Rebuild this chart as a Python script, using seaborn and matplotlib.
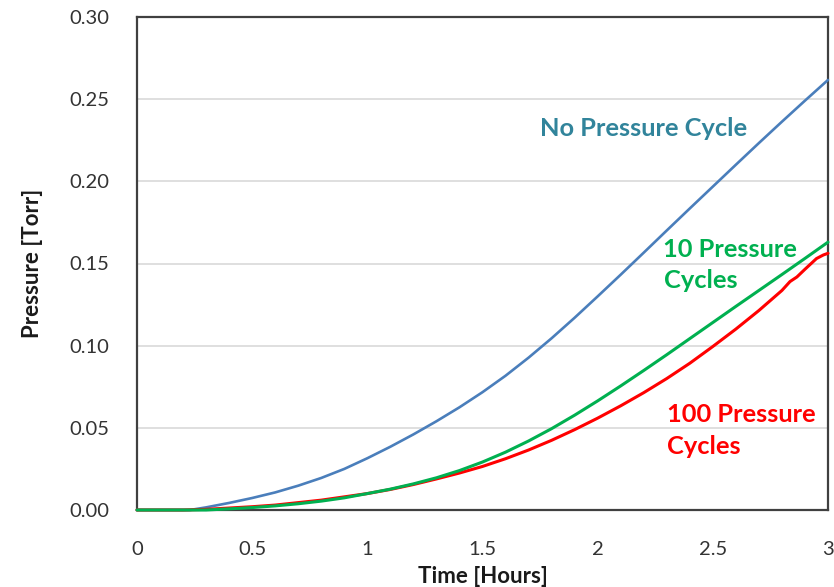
import numpy as np
import pandas as pd
import matplotlib
matplotlib.use("Agg")
import matplotlib.pyplot as plt
import seaborn as sns

# Pressure (Torr) against time (hours) for the three runs
time_no = [0.0, 0.1, 0.23, 0.3, 0.4, 0.5, 0.6, 0.7, 0.8, 0.9, 1.0,
           1.1, 1.2, 1.3, 1.4, 1.5, 1.6, 1.7, 1.8, 1.9, 2.0,
           2.1, 2.2, 2.3, 2.4, 2.5, 2.6, 2.7, 2.8, 2.9, 3.0]
no_cycle = [0.0, 0.0, 0.0, 0.0016, 0.0043, 0.0073, 0.0107, 0.0148, 0.0195, 0.0250, 0.0315,
            0.0385, 0.0460, 0.0540, 0.0625, 0.0717, 0.0817, 0.0927, 0.1045, 0.1170, 0.1300,
            0.1432, 0.1566, 0.1701, 0.1835, 0.1968, 0.2101, 0.2233, 0.2363, 0.2491, 0.2617]

time_10 = [0.0, 0.1, 0.2, 0.3, 0.4, 0.5, 0.6, 0.7, 0.8, 0.9, 1.0,
           1.1, 1.2, 1.3, 1.4, 1.5, 1.6, 1.7, 1.8, 1.9, 2.0,
           2.1, 2.2, 2.3, 2.4, 2.5, 2.6, 2.7, 2.8, 2.9, 3.0]
ten_cycles = [0.0, 0.0, 0.0, 0.0, 0.0007, 0.0015, 0.0025, 0.0038, 0.0054, 0.0074, 0.0100,
              0.0127, 0.0159, 0.0196, 0.0240, 0.0292, 0.0352, 0.0420, 0.0495, 0.0577, 0.0664,
              0.0755, 0.0849, 0.0945, 0.1043, 0.1141, 0.1239, 0.1336, 0.1433, 0.1531, 0.1630]

time_100 = [0.0, 0.1, 0.2, 0.3, 0.4, 0.5, 0.6, 0.7, 0.8, 0.9, 1.0,
            1.1, 1.2, 1.3, 1.4, 1.5, 1.6, 1.7, 1.8, 1.9, 2.0,
            2.1, 2.2, 2.3, 2.4, 2.5, 2.6, 2.7, 2.8, 2.835, 2.865,
            2.9, 2.95, 2.98, 3.0]
hundred_cycles = [0.0, 0.0, 0.0, 0.0004, 0.0012, 0.002, 0.003, 0.0045, 0.006, 0.008, 0.010,
                  0.0125, 0.0155, 0.0189, 0.0225, 0.0265, 0.0312, 0.0365, 0.0424, 0.0489, 0.0559,
                  0.0634, 0.0714, 0.0800, 0.0893, 0.0995, 0.1101, 0.1214, 0.1336, 0.1390, 0.1418,
                  0.1465, 0.1530, 0.1552, 0.1562]

x_ticks = [0, 0.5, 1, 1.5, 2, 2.5, 3]
x_tick_labels = ["0", "0.5", "1", "1.5", "2", "2.5", "3"]
y_ticks = [0.00, 0.05, 0.10, 0.15, 0.20, 0.25, 0.30]
y_tick_labels = ["0.00", "0.05", "0.10", "0.15", "0.20", "0.25", "0.30"]

sns.set_theme(style="white")
plt.rcParams["font.family"] = ["Lato", "DejaVu Sans"]

fig = plt.figure(figsize=(8.34, 5.87), dpi=100)
ax = fig.add_axes([137 / 834, 77 / 587, 691 / 834, 493 / 587])

blue, green, red = "#4a7ebb", "#00b050", "#ff0000"

sns.lineplot(x=time_no, y=no_cycle, ax=ax, color=blue, lw=1.9,
             estimator=None, sort=False, clip_on=False, zorder=4)
sns.lineplot(x=time_100, y=hundred_cycles, ax=ax, color=red, lw=2.2,
             estimator=None, sort=False, clip_on=False, zorder=4)
sns.lineplot(x=time_10, y=ten_cycles, ax=ax, color=green, lw=2.2,
             estimator=None, sort=False, clip_on=False, zorder=5)

ax.set_xlim(0, 3)
ax.set_ylim(0, 0.30)
ax.set_xticks(x_ticks)
ax.set_xticklabels(x_tick_labels)
ax.set_yticks(y_ticks)
ax.set_yticklabels(y_tick_labels)

ax.yaxis.grid(True, color="#d9d9d9", lw=1.2)
ax.xaxis.grid(False)
ax.set_axisbelow(True)

for s in ax.spines.values():
    s.set_color("#404040")
    s.set_linewidth(1.6)
    s.set_visible(True)

ax.tick_params(axis="both", which="major", direction="out", color="#bfbfbf",
               width=1.2, labelsize=14.5, labelcolor="#333333")
ax.tick_params(axis="x", length=6, pad=16)
ax.tick_params(axis="y", length=8, pad=12)

ax.set_xlabel("Time [Hours]", fontsize=16, fontweight="bold", color="#1a1a1a", labelpad=6)
ax.set_ylabel("Pressure [Torr]", fontsize=16, fontweight="bold", color="#1a1a1a", labelpad=19)

label_kw = dict(fontsize=18.3, fontweight="bold", ha="left", va="baseline")
ax.text(1.750, 0.2276, "No Pressure Cycle", color="#31849b", **label_kw)
ax.text(2.285, 0.1542, "10 Pressure", color=green, **label_kw)
ax.text(2.288, 0.1349, "Cycles", color=green, **label_kw)
ax.text(2.303, 0.0537, "100 Pressure", color=red, **label_kw)
ax.text(2.300, 0.0341, "Cycles", color=red, **label_kw)

fig.savefig("out.png", dpi=100, facecolor="white")
